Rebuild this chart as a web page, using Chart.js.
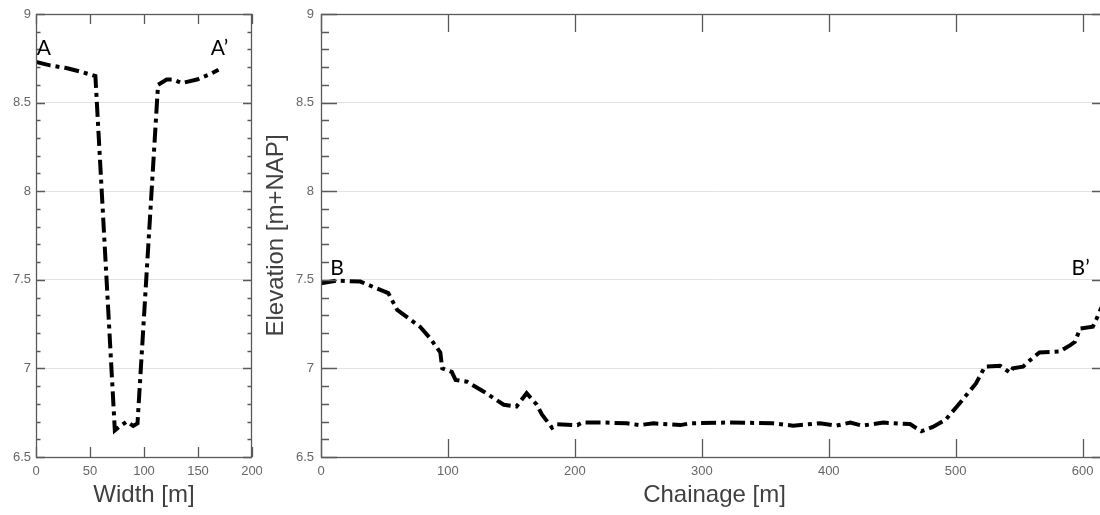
<!DOCTYPE html>
<html>
<head>
<meta charset="utf-8">
<script src="https://cdn.jsdelivr.net/npm/chart.js@4.4.1/dist/chart.umd.min.js"></script>
<style>
  html, body { margin: 0; padding: 0; background: #fff; overflow: hidden; }
  canvas { display: block; }
  #wrapLeft { position: absolute; left: 0; top: 0; width: 262px; height: 515px; }
  #wrapRight { position: absolute; left: 262px; top: 0; width: 838px; height: 515px; overflow: hidden; }
</style>
</head>
<body>
<div id="wrapLeft"><canvas id="widthChart" width="262" height="515"></canvas></div>
<div id="wrapRight"><canvas id="chainageChart" width="850" height="515"></canvas></div>
<script>
// cross section A-A' (width)
const widthX = [0, 13, 28, 41, 55, 73, 77, 84, 90, 94, 113, 121, 127, 135, 149, 161, 169];
const widthY = [8.73, 8.71, 8.695, 8.675, 8.65, 6.65, 6.67, 6.70, 6.675, 6.69, 8.60, 8.63, 8.63, 8.61, 8.63, 8.66, 8.685];

// long section B-B' (chainage)
const chainageX = [0, 12, 31, 41, 53, 60, 78, 86, 94, 95.5, 103, 106, 115, 128, 144, 154, 162, 170, 174, 182,
  186, 202, 206, 222, 241, 251, 262, 283, 291, 322, 356, 372, 393, 406, 417, 426, 443, 464, 473, 482,
  492, 501, 516, 523, 535, 543, 545, 553, 560, 566, 582, 590, 594, 598, 608, 611, 614, 618];
const chainageY = [7.48, 7.495, 7.49, 7.46, 7.425, 7.33, 7.235, 7.17, 7.09, 7.0, 6.98, 6.935, 6.925, 6.87, 6.795, 6.785, 6.86, 6.795, 6.74, 6.665,
  6.685, 6.68, 6.695, 6.695, 6.69, 6.68, 6.69, 6.68, 6.69, 6.695, 6.69, 6.677, 6.69, 6.677, 6.694, 6.677, 6.694, 6.686, 6.645, 6.67,
  6.71, 6.785, 6.915, 7.01, 7.015, 6.975, 7.0, 7.01, 7.055, 7.09, 7.095, 7.13, 7.15, 7.225, 7.235, 7.28, 7.33, 7.39];

const widthTicks = [0, 50, 100, 150, 200];
const chainageTicks = [0, 100, 200, 300, 400, 500, 600];
const elevTicks = [6.5, 7, 7.5, 8, 8.5, 9];
const elevMinorTicks = [6.6, 6.7, 6.8, 6.9, 7.1, 7.2, 7.3, 7.4, 7.6, 7.7, 7.8, 7.9, 8.1, 8.2, 8.3, 8.4, 8.6, 8.7, 8.8, 8.9];

const widthLabels = ['A', 'A\u2019'];
const chainageLabels = ['B', 'B\u2019'];

Chart.defaults.font.family = "'Liberation Sans', Arial, sans-serif";

// box + inward tick marks, like the matlab figure
const frameTicks = {
  id: 'frameTicks',
  afterDatasetsDraw(chart, args, opts) {
    const { ctx, chartArea: a, scales: { x, y } } = chart;
    ctx.save();
    ctx.strokeStyle = '#5a5a5a';
    ctx.lineWidth = 1.3;
    ctx.beginPath();
    x.ticks.forEach(t => {
      const px = Math.round(x.getPixelForValue(t.value)) + 0.5;
      ctx.moveTo(px, a.top); ctx.lineTo(px, a.top + opts.xLen);
      ctx.moveTo(px, a.bottom); ctx.lineTo(px, a.bottom - opts.xLen);
    });
    y.ticks.forEach(t => {
      const py = Math.round(y.getPixelForValue(t.value)) + 0.5;
      ctx.moveTo(a.left, py); ctx.lineTo(a.left + opts.yLen, py);
      ctx.moveTo(a.right, py); ctx.lineTo(a.right - opts.yLen, py);
    });
    elevMinorTicks.forEach(v => {
      const py = Math.round(y.getPixelForValue(v)) + 0.5;
      ctx.moveTo(a.left, py); ctx.lineTo(a.left + opts.yLen / 2, py);
      ctx.moveTo(a.right, py); ctx.lineTo(a.right - opts.yLen / 2, py);
    });
    ctx.stroke();
    ctx.strokeRect(Math.round(a.left) + 0.5, Math.round(a.top) + 0.5,
      Math.round(a.right - a.left) - 1, Math.round(a.bottom - a.top));
    ctx.restore();
  }
};

const sectionLabels = {
  id: 'sectionLabels',
  afterDatasetsDraw(chart, args, opts) {
    const { ctx, scales: { x, y } } = chart;
    ctx.save();
    ctx.fillStyle = '#000';
    ctx.font = '21px Lato';
    ctx.textAlign = 'left';
    ctx.textBaseline = 'alphabetic';
    opts.items.forEach(it => ctx.fillText(it.text, x.getPixelForValue(it.x), y.getPixelForValue(it.y)));
    ctx.restore();
  }
};

function axisX(ticks, max, title) {
  return {
    type: 'linear', min: 0, max: max,
    afterBuildTicks: s => { s.ticks = ticks.map(v => ({ value: v })); },
    afterFit: s => { s.height = 58; s.paddingLeft = 0; s.paddingRight = 0; },
    grid: { display: false, drawTicks: false },
    border: { display: false },
    ticks: { color: '#666', font: { size: 13 }, padding: 7, maxRotation: 0, autoSkip: false, callback: v => String(v) },
    title: { display: true, text: title, color: '#404040', font: { size: 24, lineHeight: 1.2 }, padding: { top: 0, bottom: 5 } }
  };
}

function axisY(width, pad, title) {
  return {
    type: 'linear', min: 6.5, max: 9,
    afterBuildTicks: s => { s.ticks = elevTicks.map(v => ({ value: v })); },
    afterFit: s => { s.width = width; s.paddingTop = 0; s.paddingBottom = 0; },
    grid: {
      drawTicks: false, lineWidth: 1,
      color: c => (c.tick && (c.tick.value === 6.5 || c.tick.value === 9)) ? 'rgba(0,0,0,0)' : '#e2e2e2'
    },
    border: { display: false },
    ticks: { color: '#666', font: { size: 13 }, padding: pad, autoSkip: false, callback: v => String(v) },
    title: title
      ? { display: true, text: title, color: '#404040', font: { size: 24, lineHeight: 1.2 }, padding: { top: 0, bottom: 0 } }
      : { display: false }
  };
}

function profile(xs, ys) {
  return {
    data: xs.map((v, i) => ({ x: v, y: ys[i] })),
    borderColor: '#000',
    borderWidth: 4,
    borderDash: [15, 5, 4, 5],
    borderCapStyle: 'butt',
    pointRadius: 0,
    tension: 0,
    fill: false
  };
}

new Chart(document.getElementById('widthChart'), {
  type: 'line',
  data: { datasets: [profile(widthX, widthY)] },
  options: {
    responsive: false, animation: false, events: [],
    layout: { padding: { top: 14, right: 10, left: 0, bottom: 0 } },
    scales: { x: axisX(widthTicks, 200, 'Width [m]'), y: axisY(36, 5, null) },
    plugins: {
      legend: { display: false }, tooltip: { enabled: false },
      frameTicks: { xLen: 10, yLen: 9 },
      sectionLabels: { items: [
        { text: widthLabels[0], x: 0.6, y: 8.769 },
        { text: widthLabels[1], x: 161.8, y: 8.769 }
      ] }
    }
  },
  plugins: [frameTicks, sectionLabels]
});

new Chart(document.getElementById('chainageChart'), {
  type: 'line',
  data: { datasets: [profile(chainageX, chainageY)] },
  options: {
    responsive: false, animation: false, events: [],
    layout: { padding: { top: 14, right: 4, left: 0, bottom: 0 } },
    scales: { x: axisX(chainageTicks, 620, 'Chainage [m]'), y: axisY(59, 7, 'Elevation [m+NAP]') },
    plugins: {
      legend: { display: false }, tooltip: { enabled: false },
      frameTicks: { xLen: 18, yLen: 16 },
      sectionLabels: { items: [
        { text: chainageLabels[0], x: 7.3, y: 7.527 },
        { text: chainageLabels[1], x: 591.3, y: 7.527 }
      ] }
    }
  },
  plugins: [frameTicks, sectionLabels]
});
</script>
</body>
</html>
